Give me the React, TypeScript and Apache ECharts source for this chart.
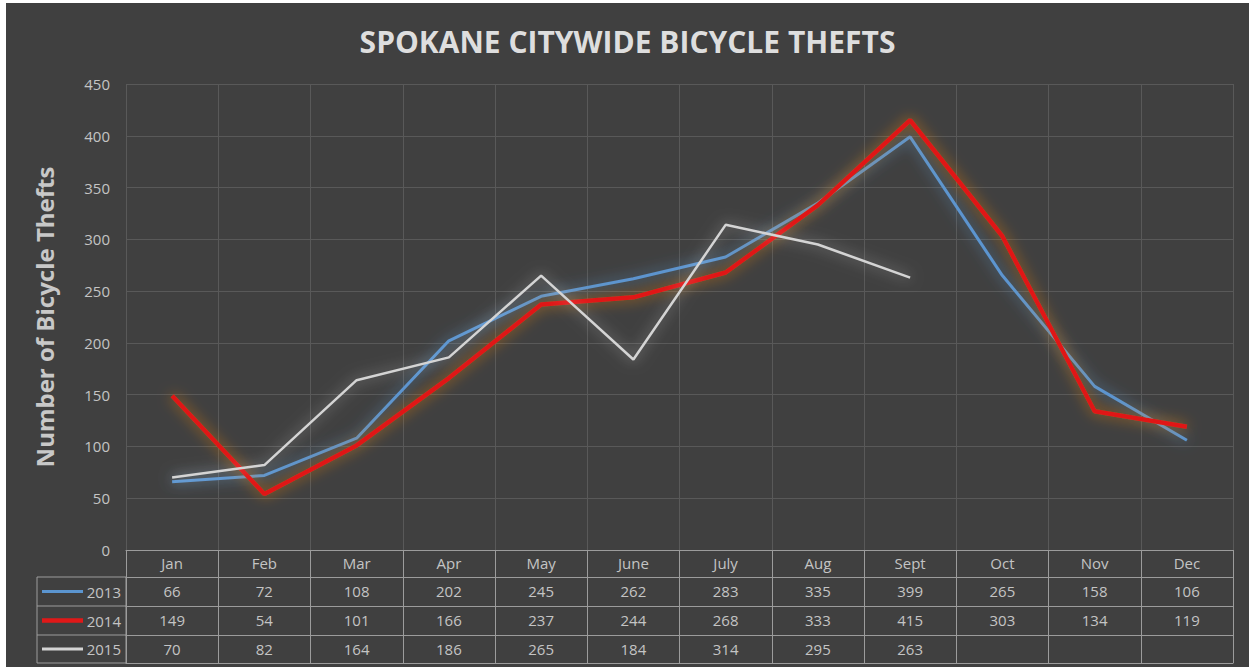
import React, { useEffect, useRef } from "react";
import * as echarts from "echarts";

const months = ["Jan", "Feb", "Mar", "Apr", "May", "June", "July", "Aug", "Sept", "Oct", "Nov", "Dec"];
const years = ["2013", "2014", "2015"];
const s2013 = [66, 72, 108, 202, 245, 262, 283, 335, 399, 265, 158, 106];
const s2014 = [149, 54, 101, 166, 237, 244, 268, 333, 415, 303, 134, 119];
const s2015 = [70, 82, 164, 186, 265, 184, 314, 295, 263, null, null, null];
const yTicks = { min: 0, max: 450, interval: 50 };

const BG = "#404040";
const TXT = "#c4c4c4";
const TABLE_LINE = "#9c9c9c";
const GRID_LINE = "#595959";
const C2013 = "#5b95d0";
const C2014 = "#e01818";
const C2015 = "#d4d4d4";

export default function App() {
  const ref = useRef<HTMLDivElement>(null);
  useEffect(() => {
    if (!ref.current) return;
    const chart = echarts.init(ref.current, null, { renderer: "svg" });
    const font = "'Open Sans', sans-serif";
    const gridLeft = 120, gridRight = 16, gridTop = 81, gridBottom = 117;
    const offs = [0, 27, 56, 85, 113];
    const rows = [s2013, s2014, s2015];
    const colors = [C2013, C2014, C2015];
    const widths = [3, 4.5, 3];
    const fs = 15;

    const valueAxis = (i: number) => ({
      type: "category",
      gridIndex: 0,
      data: months,
      position: "bottom",
      offset: offs[i],
      axisLine: { show: true, lineStyle: { color: TABLE_LINE, width: 1 } },
      axisTick: { show: false },
      splitLine: { show: false },
      axisLabel: {
        show: i < 4,
        color: TXT,
        fontSize: fs,
        fontFamily: font,
        margin: 6,
        interval: 0,
        formatter: (_v: string, idx: number) => {
          const r = rows[i - 1];
          const val = r ? r[idx] : null;
          return val == null ? "" : String(val);
        },
      },
    });

    const chartH = 664;
    const tableTop = chartH - gridBottom;
    const legendLeft = 31;
    const graphic: any[] = [
      {
        type: "rect",
        shape: { x: legendLeft, y: tableTop + offs[1], width: gridLeft - legendLeft, height: offs[4] - offs[1] },
        style: { fill: "none", stroke: TABLE_LINE, lineWidth: 1 },
      },
      {
        type: "line",
        shape: { x1: legendLeft, y1: tableTop + offs[2], x2: gridLeft, y2: tableTop + offs[2] },
        style: { stroke: TABLE_LINE, lineWidth: 1 },
      },
      {
        type: "line",
        shape: { x1: legendLeft, y1: tableTop + offs[3], x2: gridLeft, y2: tableTop + offs[3] },
        style: { stroke: TABLE_LINE, lineWidth: 1 },
      },
    ];
    years.forEach((y, i) => {
      const cy = tableTop + (offs[i + 1] + offs[i + 2]) / 2;
      graphic.push({
        type: "line",
        shape: { x1: 36, y1: cy, x2: 77, y2: cy },
        style: { stroke: colors[i], lineWidth: widths[i] },
      });
      graphic.push({
        type: "text",
        x: 115,
        y: cy,
        style: { text: y, fill: TXT, fontSize: fs, fontFamily: font, align: "right", verticalAlign: "middle" },
      });
    });

    chart.setOption({
      animation: false,
      backgroundColor: BG,
      title: {
        text: "SPOKANE CITYWIDE BICYCLE THEFTS",
        left: "center",
        top: 18,
        textStyle: { color: "#dedede", fontSize: 30, fontWeight: "bold", fontFamily: font },
      },
      grid: { left: gridLeft, right: gridRight, top: gridTop, bottom: gridBottom, containLabel: false },
      xAxis: [
        {
          type: "category",
          gridIndex: 0,
          data: months,
          position: "bottom",
          boundaryGap: true,
          axisLine: { show: true, lineStyle: { color: TABLE_LINE, width: 1 } },
          axisTick: { show: true, interval: 0, length: offs[4], lineStyle: { color: TABLE_LINE, width: 1 } },
          splitLine: { show: true, interval: 0, lineStyle: { color: GRID_LINE, width: 1 } },
          axisLabel: { color: TXT, fontSize: fs, fontFamily: font, margin: 5, interval: 0 },
        },
        valueAxis(1),
        valueAxis(2),
        valueAxis(3),
        valueAxis(4),
      ],
      yAxis: {
        type: "value",
        min: yTicks.min,
        max: yTicks.max,
        interval: yTicks.interval,
        name: "Number of Bicycle Thefts",
        nameLocation: "middle",
        nameRotate: 90,
        nameGap: 70,
        nameTextStyle: { color: "#c8c8c8", fontSize: 24, fontWeight: "bold", fontFamily: font },
        axisLine: { show: false },
        axisTick: { show: false },
        axisLabel: { color: TXT, fontSize: fs, fontFamily: font, margin: 16 },
        splitLine: { show: true, lineStyle: { color: GRID_LINE, width: 1 } },
      },
      series: [
        {
          name: "2013",
          type: "line",
          data: s2013,
          showSymbol: false,
          lineStyle: { color: C2013, width: 3, shadowBlur: 14, shadowColor: "rgba(91,155,213,0.8)" },
          itemStyle: { color: C2013 },
          z: 2,
        },
        {
          name: "2014",
          type: "line",
          data: s2014,
          showSymbol: false,
          lineStyle: { color: C2014, width: 4.5, shadowBlur: 14, shadowColor: "rgba(240,130,20,0.75)" },
          itemStyle: { color: C2014 },
          z: 3,
        },
        {
          name: "2015",
          type: "line",
          data: s2015,
          showSymbol: false,
          lineStyle: { color: C2015, width: 2.5, shadowBlur: 14, shadowColor: "rgba(255,255,255,0.5)" },
          itemStyle: { color: C2015 },
          z: 4,
        },
      ],
      graphic,
    });
    return () => chart.dispose();
  }, []);

  return (
    <div style={{ position: "fixed", left: 0, top: 0, width: 1249, height: 667, background: "#ffffff" }}>
      <div ref={ref} style={{ position: "absolute", left: 6, top: 3, width: 1243, height: 664 }} />
    </div>
  );
}
